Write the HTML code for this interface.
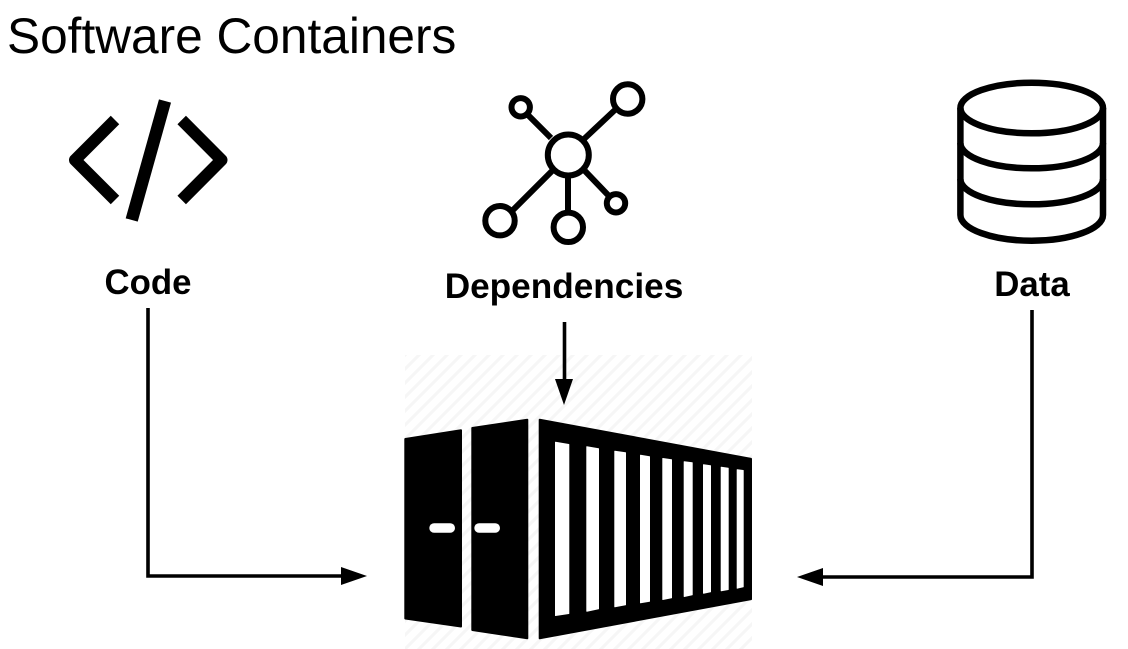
<!DOCTYPE html>
<html>
<head>
<meta charset="utf-8">
<style>
html,body{margin:0;padding:0;background:#fff;width:1128px;height:649px;overflow:hidden}
svg{display:block}
text{font-family:"Liberation Sans",sans-serif;fill:#000}
</style>
</head>
<body>
<svg width="1128" height="649" viewBox="0 0 1128 649" xmlns="http://www.w3.org/2000/svg">
<defs>
<pattern id="h" width="14" height="14" patternUnits="userSpaceOnUse" patternTransform="translate(405 355)">
<path d="M-3 3L3 -3M-3 17L17 -3M11 17L17 11" stroke="#f6f6f6" stroke-width="3"/>
</pattern>
</defs>
<rect width="1128" height="649" fill="#fff"/>
<text x="7" y="53" font-size="49.6">Software Containers</text>
<text x="148" y="294" font-size="34.8" font-weight="700" text-anchor="middle">Code</text>
<text x="564" y="298" font-size="35.2" font-weight="700" text-anchor="middle">Dependencies</text>
<text x="1032" y="296" font-size="34.8" font-weight="700" text-anchor="middle">Data</text>

<!-- code icon -->
<g fill="none" stroke="#000" stroke-width="12" stroke-linecap="butt" stroke-linejoin="round">
<path d="M115 120L75 160L115 200"/>
<path d="M181.7 120L221.5 160L181.7 200"/>
<path d="M165 101L131.7 220" stroke-width="12.5"/>
</g>

<!-- network icon -->
<g fill="none" stroke="#000" stroke-width="6">
<path d="M551 138L528 115M584 139L617 108M552 171L513 210M568 178V212M585 171L608 195"/>
<circle cx="568.3" cy="155" r="20.5"/>
<circle cx="627.7" cy="99" r="14.7"/>
<circle cx="520.7" cy="107.3" r="9.2"/>
<circle cx="500" cy="220.7" r="14.7"/>
<circle cx="568.3" cy="227.3" r="14.7"/>
<circle cx="616" cy="203.3" r="9.2"/>
</g>

<!-- database icon -->
<g fill="none" stroke="#000" stroke-width="6.5">
<ellipse cx="1031.7" cy="108" rx="71.3" ry="25.3"/>
<path d="M960.4 108V215C960.4 229 992 240.7 1031.7 240.7C1071.4 240.7 1103 229 1103 215V108"/>
<path d="M960.4 143C960.4 157 992 168.3 1031.7 168.3C1071.4 168.3 1103 157 1103 143"/>
<path d="M960.4 179C960.4 193 992 204.3 1031.7 204.3C1071.4 204.3 1103 193 1103 179"/>
</g>

<!-- hatch background -->
<rect x="405" y="355" width="347" height="294" fill="url(#h)"/>

<!-- container -->
<g fill="#000" stroke="#000" stroke-width="2" stroke-linejoin="round">
<path d="M405.3 439L461 430.3V626.5L405.3 618.5Z"/>
<path d="M472.3 428L527.3 419.7V638.3L472.3 630Z"/>
<path d="M539.7 419.7L751 458.8V599.2L539.7 638.3Z"/>
</g>
<g fill="#fff" stroke="#fff" stroke-width="1" stroke-linejoin="round">
<path d="M555.5 442.2L568.8 444.5V613.5L555.5 615.5Z"/>
<path d="M586.8 446.8L598.5 448.8V608.8L586.8 611.2Z"/>
<path d="M614.8 451.2L625.5 452.8V604.8L614.8 606.8Z"/>
<path d="M640.5 455.2L649.5 456.8V601.2L640.5 602.8Z"/>
<path d="M662.8 458.5L671.5 459.8V597.8L662.8 599.5Z"/>
<path d="M684.2 461.8L692.2 462.8V594.8L684.2 596.5Z"/>
<path d="M703.5 464.8L710.5 465.8V591.8L703.5 593.2Z"/>
<path d="M721.2 467.2L728.2 468.2V589.5L721.2 590.8Z"/>
<path d="M737.2 469.8L743.2 470.5V586.8L737.2 588.2Z"/>
</g>
<g fill="#fff">
<rect x="429.3" y="523.3" width="25.7" height="9.4" rx="4.7"/>
<rect x="474.3" y="523.3" width="25.7" height="9.4" rx="4.7"/>
</g>

<!-- connectors -->
<g fill="none" stroke="#000" stroke-width="3.6">
<path d="M148 308V576H345"/>
<path d="M1032 310V577H820"/>
<path d="M564.5 322V382"/>
</g>
<g fill="#000">
<path d="M367 576L341 567V585Z"/>
<path d="M797 577L823 568V586Z"/>
<path d="M564 405L555 379H573Z"/>
</g>
</svg>
</body>
</html>
